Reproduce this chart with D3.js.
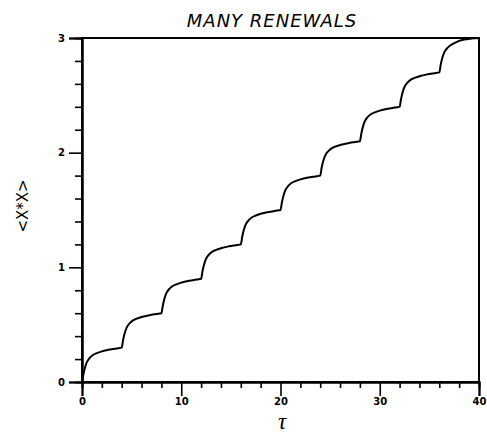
<!DOCTYPE html>
<html>
<head>
<meta charset="utf-8">
<script src="https://cdn.jsdelivr.net/npm/d3@7"></script>
<style>
  body { margin: 0; background: #fff; }
  svg { display: block; }
</style>
</head>
<body>
<div id="chart"></div>
<script>
// Curve: tau and <X*X>
const tau = [
  0, 0.15, 0.3, 0.5, 0.8, 1.1, 1.5, 2.0, 2.8, 3.5,
  4, 4.15, 4.3, 4.5, 4.8, 5.1, 5.5, 6.0, 6.8, 7.5,
  8, 8.15, 8.3, 8.5, 8.8, 9.1, 9.5, 10.0, 10.8, 11.5,
  12, 12.15, 12.3, 12.5, 12.8, 13.1, 13.5, 14.0, 14.8, 15.5,
  16, 16.15, 16.3, 16.5, 16.8, 17.1, 17.5, 18.0, 18.8, 19.5,
  20, 20.15, 20.3, 20.5, 20.8, 21.1, 21.5, 22.0, 22.8, 23.5,
  24, 24.15, 24.3, 24.5, 24.8, 25.1, 25.5, 26.0, 26.8, 27.5,
  28, 28.15, 28.3, 28.5, 28.8, 29.1, 29.5, 30.0, 30.8, 31.5,
  32, 32.15, 32.3, 32.5, 32.8, 33.1, 33.5, 34.0, 34.8, 35.5,
  36, 36.15, 36.3, 36.5, 36.8, 37.1, 37.5, 38.0, 38.8, 39.5,
  40
];
const xx = [
  0, 0.07, 0.125, 0.175, 0.212, 0.235, 0.252, 0.267, 0.283, 0.293,
  0.30, 0.37, 0.425, 0.475, 0.512, 0.535, 0.552, 0.567, 0.583, 0.593,
  0.60, 0.67, 0.725, 0.775, 0.812, 0.835, 0.852, 0.867, 0.883, 0.893,
  0.90, 0.97, 1.025, 1.075, 1.112, 1.135, 1.152, 1.167, 1.183, 1.193,
  1.20, 1.27, 1.325, 1.375, 1.412, 1.435, 1.452, 1.467, 1.483, 1.493,
  1.50, 1.57, 1.625, 1.675, 1.712, 1.735, 1.752, 1.767, 1.783, 1.793,
  1.80, 1.87, 1.925, 1.975, 2.012, 2.035, 2.052, 2.067, 2.083, 2.093,
  2.10, 2.17, 2.225, 2.275, 2.312, 2.335, 2.352, 2.367, 2.383, 2.393,
  2.40, 2.47, 2.525, 2.575, 2.612, 2.635, 2.652, 2.667, 2.683, 2.693,
  2.70, 2.77, 2.825, 2.875, 2.912, 2.935, 2.955, 2.975, 2.99, 2.997,
  3.00
];
const xMajor = [0, 10, 20, 30, 40];
const xMinor = [2, 4, 6, 8, 12, 14, 16, 18, 22, 24, 26, 28, 32, 34, 36, 38];
const yMajor = [0, 1, 2, 3];
const yMinor = [0.2, 0.4, 0.6, 0.8, 1.2, 1.4, 1.6, 1.8, 2.2, 2.4, 2.6, 2.8];

const width = 487, height = 434;
const margin = { top: 38, right: 8, bottom: 52, left: 82 };

const svg = d3.select("#chart").append("svg")
  .attr("width", width)
  .attr("height", height);

const x = d3.scaleLinear().domain([0, 40]).range([margin.left, width - margin.right]);
const y = d3.scaleLinear().domain([0, 3]).range([height - margin.bottom, margin.top]);

// Frame (top and right sides)
svg.append("rect")
  .attr("x", x(0)).attr("y", y(3))
  .attr("width", x(40) - x(0)).attr("height", y(0) - y(3))
  .attr("fill", "none").attr("stroke", "#000").attr("stroke-width", 2);

// x axis: major and minor ticks hang below the line
const xAxis = svg.append("g").attr("transform", `translate(0,${y(0)})`);
xAxis.call(d3.axisBottom(x).tickValues(xMajor).tickSize(14).tickPadding(2).tickFormat(d3.format("d")));
xAxis.append("g").call(d3.axisBottom(x).tickValues(xMinor).tickSize(6).tickFormat(""));

// y axis: ticks point left
const yAxis = svg.append("g").attr("transform", `translate(${x(0)},0)`);
yAxis.call(d3.axisLeft(y).tickValues(yMajor).tickSize(13).tickPadding(4).tickFormat(d3.format("d")));
yAxis.append("g").call(d3.axisLeft(y).tickValues(yMinor).tickSize(7).tickFormat(""));

svg.selectAll(".domain").attr("stroke-width", 2);
svg.selectAll(".tick line").attr("stroke-width", 1.6);
svg.selectAll(".tick text")
  .style("font-family", "'DejaVu Sans', sans-serif")
  .style("font-size", "10px")
  .style("font-weight", "bold");

// Curve
const pts = tau.map((t, i) => [t, xx[i]]);
svg.append("path")
  .datum(pts)
  .attr("fill", "none")
  .attr("stroke", "#000")
  .attr("stroke-width", 2)
  .attr("d", d3.line().x(d => x(d[0])).y(d => y(d[1])).curve(d3.curveMonotoneX));

// Title
svg.append("text")
  .attr("x", 272).attr("y", 27)
  .attr("text-anchor", "middle")
  .style("font-family", "'DejaVu Sans', sans-serif")
  .style("font-style", "italic")
  .style("font-size", "18px")
  .style("letter-spacing", "1px")
  .text("MANY RENEWALS");

// y label
svg.append("text")
  .attr("transform", "translate(28,206) rotate(-90)")
  .attr("text-anchor", "middle")
  .style("font-family", "'DejaVu Sans', sans-serif")
  .style("font-size", "15px")
  .text("<X*X>");

// x label
svg.append("text")
  .attr("x", 282).attr("y", 428.5)
  .attr("text-anchor", "middle")
  .style("font-family", "'Liberation Serif', serif")
  .style("font-style", "italic")
  .style("font-size", "23px")
  .text("τ");
</script>
</body>
</html>
